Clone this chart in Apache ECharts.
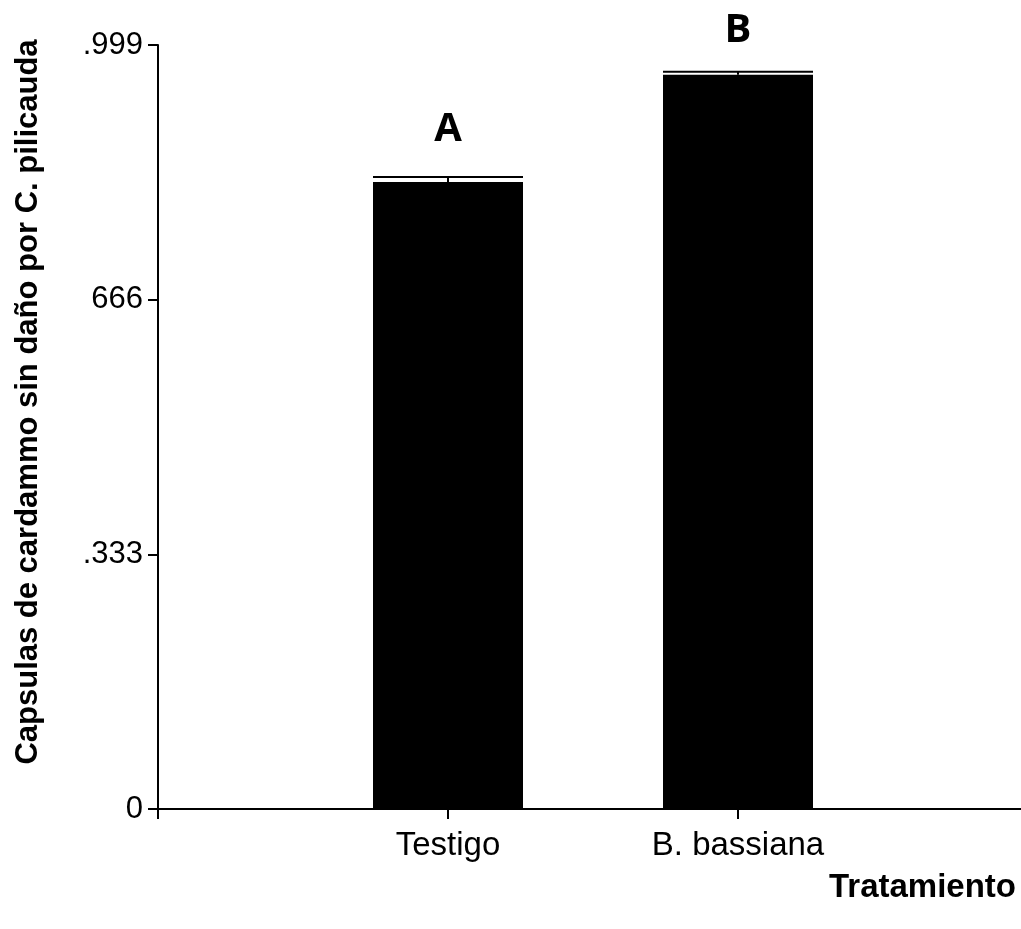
<!DOCTYPE html>
<html>
<head>
<meta charset="utf-8">
<script src="https://cdn.jsdelivr.net/npm/echarts@6/dist/echarts.min.js"></script>
<style>
html,body{margin:0;padding:0;background:#fff;}
#chart{width:1021px;height:929px;}
</style>
</head>
<body>
<div id="chart"></div>
<script>
// ---- data ----
const categories = ['Testigo', 'B. bassiana'];
const categoryPositions = [1, 2];
const means = [0.820, 0.960];
const errors = [0.0065, 0.004];
const letters = ['A', 'B'];
const yTickValues = [0, 0.333, 0.666, 0.999];
const yTickLabels = ['0', '.333', '666', '.999'];
const yTitle = 'Capsulas de cardammo sin daño por C. pilicauda';
const xTitle = 'Tratamiento';

// ---- layout ----
const letterDistances = [32, 24];
const barW = 150;

const chart = echarts.init(document.getElementById('chart'));

const barData = categoryPositions.map((x, i) => ({
  value: [x, means[i]],
  label: { distance: letterDistances[i] }
}));
const errData = categoryPositions.map((x, i) => [x, means[i], means[i] + errors[i]]);

const option = {
  animation: false,
  backgroundColor: '#ffffff',
  grid: { left: 158, width: 870, top: 45, bottom: 120, containLabel: false, outerBoundsMode: 'none' },
  xAxis: {
    type: 'value',
    min: 0, max: 3, interval: 1,
    splitLine: { show: false },
    axisLine: { show: true, onZero: false, lineStyle: { color: '#000', width: 2 } },
    axisTick: { show: true, length: 10, lineStyle: { color: '#000', width: 2 } },
    axisLabel: {
      margin: 20,
      fontFamily: 'Liberation Sans, Arial, sans-serif',
      fontSize: 33,
      color: '#000',
      formatter: function (v) {
        const i = categoryPositions.indexOf(Math.round(v));
        return (i >= 0 && Math.abs(v - Math.round(v)) < 1e-6) ? categories[i] : '';
      }
    }
  },
  yAxis: {
    type: 'value',
    min: 0, max: 0.999, interval: 0.333,
    splitLine: { show: false },
    axisLine: { show: true, lineStyle: { color: '#000', width: 2 } },
    axisTick: { show: true, length: 10, lineStyle: { color: '#000', width: 2 } },
    axisLabel: {
      margin: 15,
      fontFamily: 'Liberation Sans, Arial, sans-serif',
      fontSize: 31,
      color: '#000',
      formatter: function (v) {
        let best = 0, bd = Infinity;
        yTickValues.forEach((t, i) => { const d = Math.abs(t - v); if (d < bd) { bd = d; best = i; } });
        return yTickLabels[best];
      }
    }
  },
  graphic: [
    {
      type: 'text',
      x: 28, y: 402,
      rotation: Math.PI / 2,
      style: {
        text: yTitle,
        fontFamily: 'Liberation Sans, Arial, sans-serif',
        fontWeight: 'bold',
        fontSize: 31,
        fill: '#000',
        align: 'center',
        verticalAlign: 'middle'
      }
    },
    {
      type: 'text',
      x: 1016, y: 888,
      style: {
        text: xTitle,
        fontFamily: 'Liberation Sans, Arial, sans-serif',
        fontWeight: 'bold',
        fontSize: 33,
        fill: '#000',
        align: 'right',
        verticalAlign: 'middle'
      }
    }
  ],
  series: [
    {
      type: 'bar',
      data: barData,
      barWidth: barW,
      itemStyle: { color: '#000' },
      label: {
        show: true,
        position: 'top',
        fontFamily: 'Open Sans, sans-serif',
        fontWeight: 'bold',
        fontSize: 40,
        color: '#000',
        formatter: function (p) { return letters[p.dataIndex]; }
      },
      z: 2
    },
    {
      type: 'custom',
      data: errData,
      z: 3,
      renderItem: function (params, api) {
        const x = api.value(0);
        const pBase = api.coord([x, api.value(1)]);
        const pTop = api.coord([x, api.value(2)]);
        return {
          type: 'group',
          children: [
            { type: 'line', shape: { x1: pTop[0], y1: pBase[1], x2: pTop[0], y2: pTop[1] }, style: { stroke: '#000', lineWidth: 2 } },
            { type: 'line', shape: { x1: pTop[0] - barW / 2, y1: pTop[1], x2: pTop[0] + barW / 2, y2: pTop[1] }, style: { stroke: '#000', lineWidth: 2 } }
          ]
        };
      }
    }
  ]
};
chart.setOption(option);
</script>
</body>
</html>
